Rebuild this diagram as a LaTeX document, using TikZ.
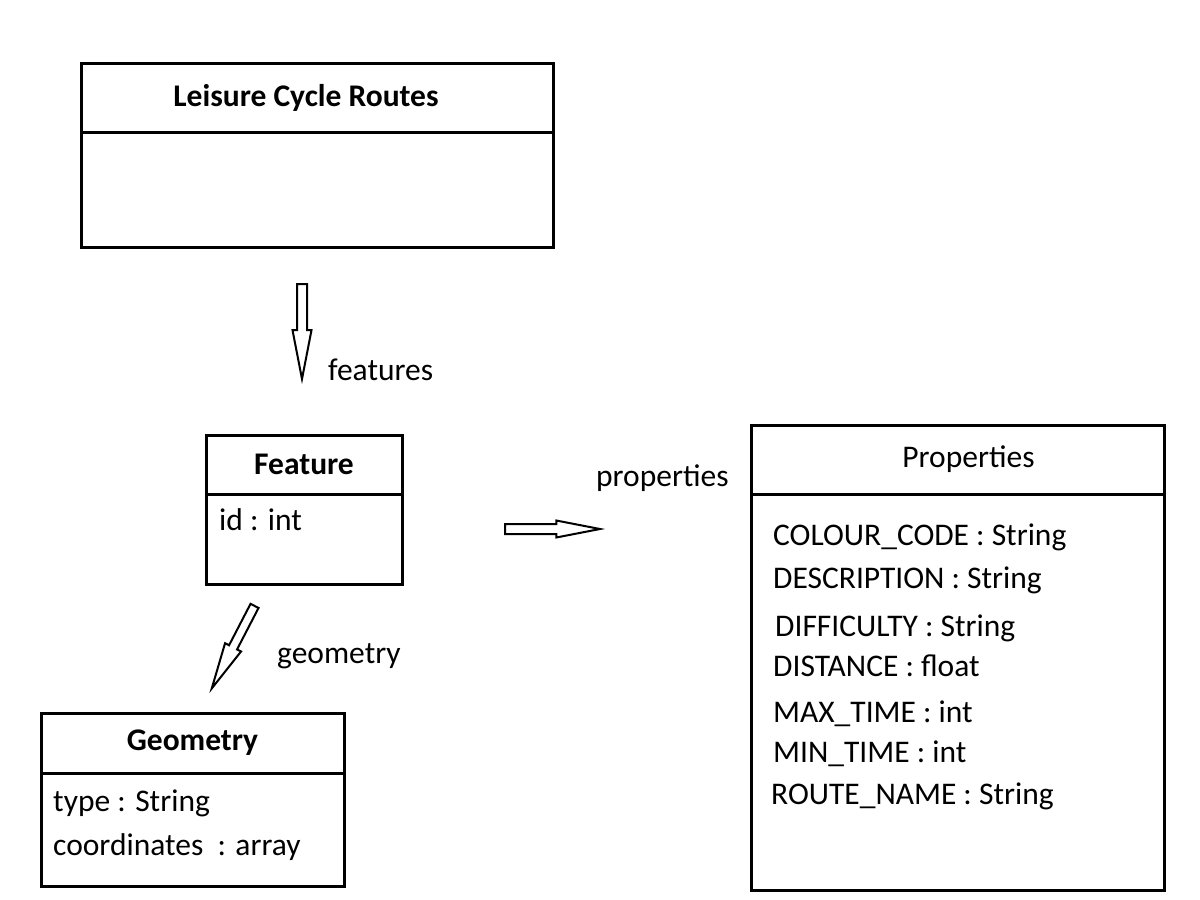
\documentclass[tikz,border=0pt]{standalone}
\usepackage{fontspec}
\setmainfont{Carlito}
\usetikzlibrary{positioning,shapes.arrows}

\begin{document}
\begin{tikzpicture}[x=1pt,y=-1pt,
    every node/.style={font=\fontsize{31.5}{38}\selectfont},
    box/.style={draw, line width=3pt, outer sep=0pt, inner sep=0pt},
    boldbox/.style={box, font=\fontsize{31.5}{38}\selectfont\bfseries},
    attr/.style={anchor=base west, inner sep=0pt},
    blockarrow/.style={draw, single arrow, anchor=tail, line width=2pt, inner xsep=0pt, inner ysep=4pt,
        minimum height=95pt, single arrow head extend=4.5pt, single arrow tip angle=22}]
    \useasboundingbox (0,0) rectangle (1200,900);
    % collection
    \node[boldbox, minimum width=472pt, minimum height=69pt] at (317,97.5) (routes) {\hspace*{-22pt}Leisure Cycle Routes};
    \node[box, minimum width=472pt, minimum height=115pt, below=0pt of routes] (routesbody) {};
    % feature
    \node[boldbox, minimum width=196pt, minimum height=59pt] at (304,464.5) (feature) {Feature};
    \node[box, minimum width=196pt, minimum height=90pt, below=0pt of feature] (featurebody) {};
    \node[attr] at (219,530) (fid) {id : int};
    % geometry
    \node[boldbox, minimum width=303pt, minimum height=60pt] at (192.5,743) (geom) {Geometry};
    \node[box, minimum width=303pt, minimum height=113pt, below=0pt of geom] (geombody) {};
    \node[attr] at (53,811) (gtype) {type : String};
    \node[attr] at (53,855) (gcoord) {coordinates\ \ : array};
    % properties
    \node[box, minimum width=413pt, minimum height=69pt] at (957.5,459.5) (props) {\hspace*{22pt}Properties};
    \node[box, minimum width=413pt, minimum height=396pt, below=0pt of props] (propsbody) {};
    \foreach \y/\x/\txt in {545/773/COLOUR\_CODE : String, 588/773/DESCRIPTION : String,
        636/775/DIFFICULTY : String, 676/773/DISTANCE : float, 722/773/MAX\_TIME : int,
        762/773/MIN\_TIME : int, 804/771/ROUTE\_NAME : String}
        \node[attr] at (\x,\y) {\txt};
    % arrows
    \node[blockarrow, rotate=-90] at (302,283) (featarrow) {};
    \node[attr] at (328,380) (featlabel) {features};
    \node[blockarrow, single arrow head extend=3.5pt] at (504,529) (proparrow) {};
    \node[attr] at (596,486) (proplabel) {properties};
    \node[blockarrow, minimum height=93pt, inner ysep=3.5pt, rotate=242.6] at (255,605) (geomarrow) {};
    \node[attr] at (277,663) (geomlabel) {geometry};
\end{tikzpicture}
\end{document}
